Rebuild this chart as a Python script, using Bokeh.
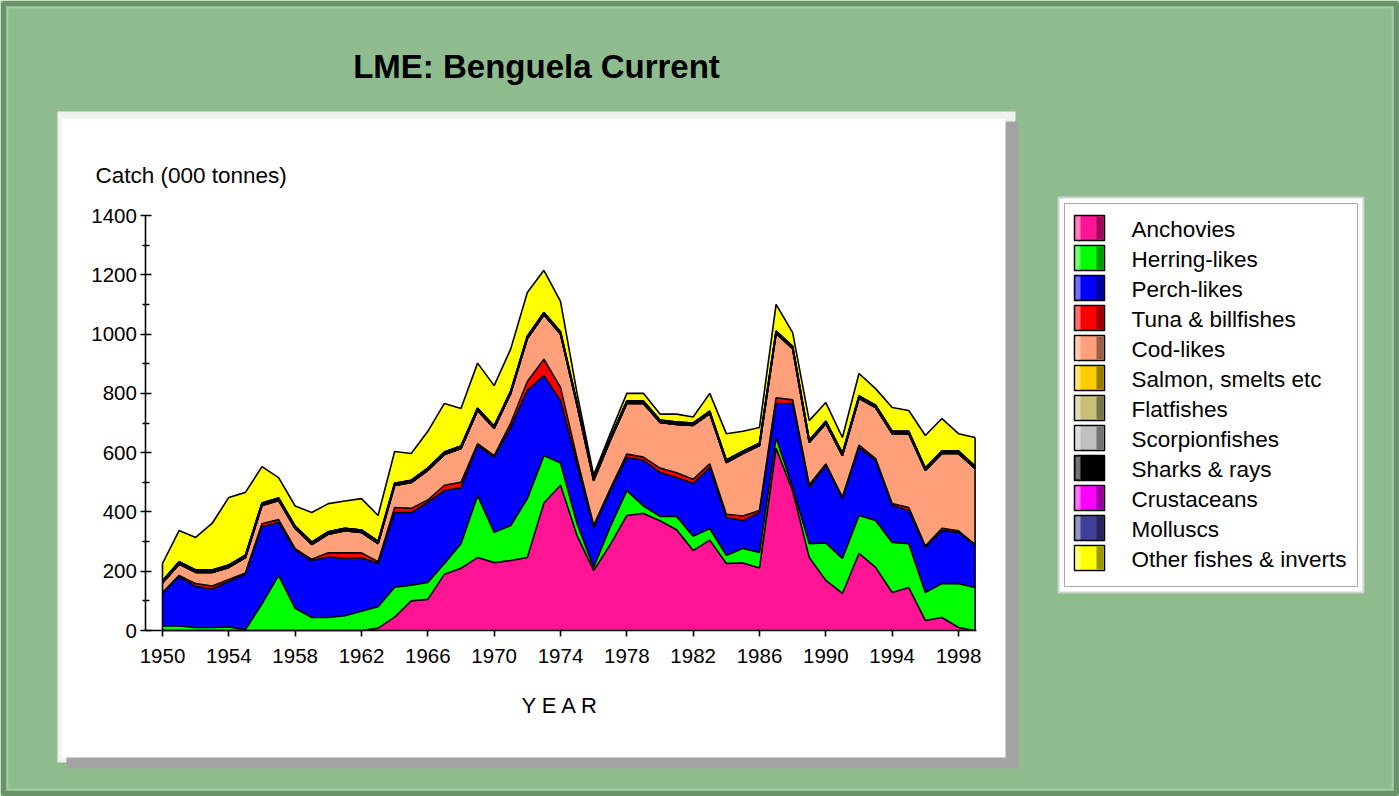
import numpy as np
from bokeh.plotting import figure
from bokeh.models import ColumnDataSource, Range1d, FixedTicker
from bokeh.embed import file_html
from bokeh.resources import INLINE
from bokeh.core.properties import value

# ---------------- data (000 tonnes) ----------------
years = list(range(1950, 2000))

anchovies = [0, 0, 0, 0, 0, 0, 0, 0, 0, 0,
             0, 0, 0, 8, 45, 100, 105, 190, 210, 246,
             229, 236, 246, 430, 490, 320, 202, 290, 388, 395,
             370, 340, 270, 305, 226, 228, 211, 615, 470, 246,
             169, 125, 260, 213, 128, 145, 34, 44, 10, 0]
herring = [15, 15, 10, 10, 12, 3, 90, 186, 75, 44,
           44, 50, 65, 72, 101, 53, 57, 36, 83, 209,
           102, 118, 199, 160, 75, 40, 11, 60, 84, 25,
           15, 45, 48, 39, 27, 49, 52, 36, 12, 47,
           126, 118, 128, 158, 169, 148, 94, 114, 148, 145]
perch = [110, 167, 138, 130, 153, 187, 260, 178, 195, 192,
         204, 193, 180, 146, 252, 245, 270, 246, 189, 169,
         253, 331, 365, 270, 211, 200, 135, 120, 112, 154,
         148, 131, 178, 206, 128, 94, 135, 115, 284, 189,
         262, 202, 229, 203, 125, 112, 152, 179, 173, 142]
tuna = [3, 4, 10, 10, 7, 4, 10, 10, 6, 4,
        14, 19, 17, 6, 17, 14, 8, 18, 18, 6,
        6, 15, 30, 55, 44, 20, 7, 8, 11, 11,
        15, 16, 14, 12, 11, 15, 7, 19, 12, 10,
        5, 5, 8, 6, 6, 10, 5, 8, 5, 3]
cod = [32, 38, 38, 46, 41, 52, 62, 65, 68, 50,
       63, 75, 69, 61, 74, 87, 100, 104, 114, 112,
       92, 100, 145, 150, 180, 180, 151, 163, 171, 181,
       154, 163, 182, 170, 175, 211, 219, 217, 173, 142,
       136, 140, 158, 172, 236, 249, 255, 252, 261, 257]
salmon_smelts = [0, 0, 0, 0, 0, 0, 0, 0, 0, 0,
                 0, 0, 0, 0, 0, 0, 0, 0, 0, 0,
                 0, 0, 0, 0, 0, 0, 0, 0, 0, 0,
                 0, 0, 0, 0, 0, 0, 0, 0, 0, 0,
                 0, 0, 0, 0, 0, 0, 0, 0, 0, 0]
flatfishes = [0, 0, 0, 0, 0, 0, 0, 0, 0, 0,
              0, 0, 0, 0, 0, 0, 0, 0, 0, 0,
              0, 0, 0, 0, 0, 0, 0, 0, 0, 0,
              0, 0, 0, 0, 0, 0, 0, 0, 0, 0,
              0, 0, 0, 0, 0, 0, 0, 0, 0, 0]
scorpionfishes = [0, 0, 0, 0, 0, 0, 0, 0, 0, 0,
                  0, 0, 0, 0, 0, 0, 0, 0, 0, 0,
                  0, 0, 0, 0, 0, 0, 0, 0, 0, 0,
                  0, 0, 0, 0, 0, 0, 0, 0, 0, 0,
                  0, 0, 0, 0, 0, 0, 0, 0, 0, 0]
sharks_rays = [8, 8, 8, 8, 8, 8, 8, 8, 8, 8,
               8, 8, 8, 8, 8, 8, 8, 8, 8, 8,
               8, 8, 8, 8, 8, 8, 8, 8, 8, 8,
               8, 8, 8, 8, 8, 8, 8, 8, 8, 8,
               8, 8, 8, 8, 8, 8, 8, 8, 8, 8]
crustaceans = [0, 0, 0, 0, 0, 0, 0, 0, 0, 0,
               0, 0, 0, 0, 0, 0, 0, 0, 0, 0,
               0, 0, 0, 0, 0, 0, 0, 0, 0, 0,
               0, 0, 0, 0, 0, 0, 0, 0, 0, 0,
               0, 0, 0, 0, 0, 0, 0, 0, 0, 0]
molluscs = [0, 0, 0, 0, 0, 0, 0, 0, 0, 0,
            0, 0, 0, 0, 0, 0, 0, 0, 0, 0,
            0, 0, 0, 0, 0, 0, 0, 0, 0, 0,
            0, 0, 0, 0, 0, 0, 0, 0, 0, 0,
            0, 0, 0, 0, 0, 0, 0, 0, 0, 0]
other = [58, 105, 110, 158, 228, 212, 123, 69, 68, 100,
         95, 92, 106, 87, 107, 90, 124, 164, 127, 152,
         136, 142, 147, 142, 102, 32, 10, 15, 26, 26,
         20, 27, 20, 60, 89, 67, 53, 90, 46, 66,
         63, 53, 76, 56, 80, 70, 110, 110, 59, 96]

series_names = ["Anchovies", "Herring-likes", "Perch-likes", "Tuna & billfishes",
                "Cod-likes", "Salmon, smelts etc", "Flatfishes", "Scorpionfishes",
                "Sharks & rays", "Crustaceans", "Molluscs", "Other fishes & inverts"]
series_values = [anchovies, herring, perch, tuna, cod, salmon_smelts, flatfishes,
                 scorpionfishes, sharks_rays, crustaceans, molluscs, other]
series_colors = ["#FF1493", "#00FF00", "#0000FF", "#FF0000", "#FFA07A", "#FFCC00",
                 "#C8C078", "#C0C0C0", "#000000", "#FF00FF", "#404098", "#FFFF00"]

x_ticks = [1950, 1954, 1958, 1962, 1966, 1970, 1974, 1978, 1982, 1986, 1990, 1994, 1998]
y_ticks = [0, 200, 400, 600, 800, 1000, 1200, 1400]
y_minor_ticks = [100, 300, 500, 700, 900, 1100, 1300]

title_text = "LME: Benguela Current"
y_title = "Catch (000 tonnes)"
x_title = "Y E A R"

# ---------------- layout (page pixels) ----------------
W, H = 1399, 796
OFF = 0
GREEN = "#8FBC8F"
FONT = "Liberation Sans"

PX_X1950, PX_X1998 = 162.0, 958.0
PX_Y0, PX_Y1400 = 630.0, 215.0
kx = (PX_X1998 - PX_X1950) / 48.0
ky = (PX_Y0 - PX_Y1400) / 1400.0
x_start = 1950 - (PX_X1950 - OFF) / kx
x_end = x_start + W / kx
y_start = -(H - (PX_Y0 - OFF)) / ky
y_end = y_start + H / ky

p = figure(width=W, height=H, x_range=Range1d(x_start, x_end), y_range=Range1d(y_start, y_end),
           output_backend="svg", toolbar_location=None, min_border=0,
           background_fill_color=GREEN, border_fill_color=GREEN, outline_line_color=None)
p.grid.visible = False
p.extra_x_ranges = {"px": Range1d(OFF, OFF + W)}
p.extra_y_ranges = {"px": Range1d(OFF + H, OFF)}
PXR = dict(x_range_name="px", y_range_name="px")

# outer frame of the picture
p.quad(left=[3], right=[W - 3], top=[3], bottom=[H - 3], fill_color=None,
       line_color="#6A936A", line_width=5, **PXR)
p.quad(left=[7], right=[W - 7], top=[7], bottom=[H - 7], fill_color=None,
       line_color="#A6CCA6", line_width=1.5, **PXR)

# white chart panel with bevel and shadow
p.quad(left=[57], right=[1015], top=[111], bottom=[762], fill_color="#EEF1EE", line_color=None, **PXR)
p.quad(left=[66], right=[1018], top=[121], bottom=[768], fill_color="#A3A3A3", line_color=None, **PXR)
p.quad(left=[61], right=[1005], top=[118], bottom=[757], fill_color="white", line_color=None, **PXR)

# title and axis titles
p.text(x=[536], y=[66], text=[title_text], text_align="center", text_baseline="alphabetic",
       text_font=value(FONT), text_font_size=value("33px"), text_font_style="bold",
       text_color="black", **PXR)
p.text(x=[95], y=[175], text=[y_title], text_align="left", text_baseline="alphabetic",
       text_font=value(FONT), text_font_size=value("22.5px"), text_color="black", **PXR)
p.text(x=[560], y=[705], text=[x_title], text_align="center", text_baseline="alphabetic",
       text_font=value(FONT), text_font_size=value("22px"), text_color="black", **PXR)

# stacked areas
keys = ["s%d" % i for i in range(len(series_names))]
data = {"year": years}
for k, v in zip(keys, series_values):
    data[k] = v
source = ColumnDataSource(data)
p.varea_stack(stackers=keys, x="year", color=series_colors, source=source)

cum = np.cumsum(np.array(series_values, dtype=float), axis=0)
for row in cum:
    p.line(years, row, line_color="black", line_width=1.6)
p.segment(x0=[years[0], years[-1]], y0=[0, 0], x1=[years[0], years[-1]],
          y1=[cum[-1][0], cum[-1][-1]], line_color="black", line_width=1.6)

# axes (library axes, pinned at the data origin)
p.xaxis.fixed_location = 0
p.xaxis.bounds = (1949, 1999.1)
p.xaxis.ticker = FixedTicker(ticks=x_ticks)
p.xaxis.major_tick_in = 0
p.xaxis.major_tick_out = 6
p.xaxis.minor_tick_line_color = None
p.xaxis.major_label_standoff = 12

p.yaxis.fixed_location = 1949
p.yaxis.bounds = (0, 1400)
p.yaxis.ticker = FixedTicker(ticks=y_ticks, minor_ticks=y_minor_ticks)
p.yaxis.major_tick_in = 6
p.yaxis.major_tick_out = 5
p.yaxis.minor_tick_in = 4
p.yaxis.minor_tick_out = 3
p.yaxis.major_label_standoff = 4

for ax in (p.xaxis, p.yaxis):
    ax.axis_line_color = "black"
    ax.axis_line_width = 1.6
    ax.major_tick_line_color = "black"
    ax.major_tick_line_width = 1.6
    ax.minor_tick_line_width = 1.6
    ax.major_label_text_font = FONT
    ax.major_label_text_font_size = "20.5px"
    ax.major_label_text_color = "black"

# legend box
p.quad(left=[1058], right=[1363], top=[197], bottom=[592], fill_color="white",
       line_color="#C9D6C9", line_width=2, **PXR)
p.quad(left=[1064], right=[1357], top=[203], bottom=[586], fill_color=None,
       line_color="#A9A9A9", line_width=1, **PXR)


def mix(hexc, t, target):
    r, g, b = int(hexc[1:3], 16), int(hexc[3:5], 16), int(hexc[5:7], 16)
    r = round(r + (target[0] - r) * t)
    g = round(g + (target[1] - g) * t)
    b = round(b + (target[2] - b) * t)
    return "#%02x%02x%02x" % (r, g, b)


for i, (name, col) in enumerate(zip(series_names, series_colors)):
    top = 215 + 30 * i
    p.quad(left=[1074], right=[1104], top=[top], bottom=[top + 25], fill_color=col,
           line_color="black", line_width=1.5, **PXR)
    p.quad(left=[1075], right=[1080], top=[top + 1], bottom=[top + 24],
           fill_color=mix(col, 0.45, (255, 255, 255)), line_color=None, **PXR)
    p.quad(left=[1096], right=[1103], top=[top + 1], bottom=[top + 24],
           fill_color=mix(col, 0.4, (0, 0, 0)), line_color=None, **PXR)
    p.text(x=[1131], y=[top + 14], text=[name], text_align="left", text_baseline="alphabetic",
           text_font=value(FONT), text_font_size=value("22.5px"), text_color="black", **PXR)

open("out.html", "w").write(file_html(p, INLINE))
